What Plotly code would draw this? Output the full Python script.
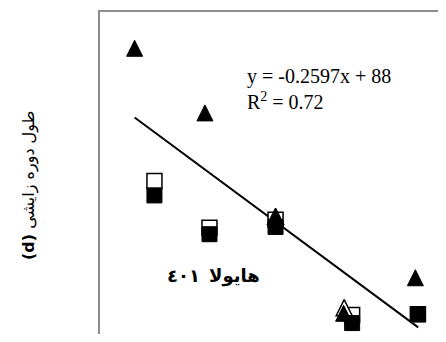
import plotly.graph_objects as go

# regression reported on the chart
slope = -0.2597
intercept = 88
fit_x = [22.2, 122.2]

# triangles (filled / open) and squares (filled / open)
tri_fill_x = [22.2, 47.0, 71.9, 95.9, 121.2]
tri_fill_y = [91.8, 83.8, 70.9, 59.0, 63.4]
tri_open_x = [71.9, 96.1]
tri_open_y = [71.0, 59.7]
sq_fill_x = [29.2, 48.6, 71.9, 98.9, 122.1]
sq_fill_y = [72.6, 67.8, 68.7, 56.8, 57.9]
sq_open_x = [29.2, 48.6, 71.9, 98.9, 122.1]
sq_open_y = [74.4, 68.6, 69.6, 57.8, 57.9]

fit_y = [slope * v + intercept for v in fit_x]

fig = go.Figure()

fig.add_trace(go.Scatter(
    x=fit_x, y=fit_y, mode='lines',
    line=dict(color='black', width=2),
))
fig.add_trace(go.Scatter(
    x=sq_open_x, y=sq_open_y, mode='markers',
    marker=dict(symbol='square', size=15, color='white',
                line=dict(color='black', width=1.5)),
))
fig.add_trace(go.Scatter(
    x=tri_open_x, y=tri_open_y, mode='markers',
    marker=dict(symbol='arrow-up', size=16, color='white',
                line=dict(color='black', width=1.5)),
))
fig.add_trace(go.Scatter(
    x=tri_fill_x, y=tri_fill_y, mode='markers',
    marker=dict(symbol='arrow-up', size=16, color='black',
                line=dict(color='black', width=1)),
))
fig.add_trace(go.Scatter(
    x=sq_fill_x, y=sq_fill_y, mode='markers',
    marker=dict(symbol='square', size=15, color='black',
                line=dict(color='black', width=1)),
))

serif = dict(family='Liberation Serif', size=20, color='black')
label_font = dict(family='DejaVu Sans', size=18, color='black', weight='bold')

fig.update_layout(
    width=438, height=326,
    margin=dict(l=92, r=0, t=4, b=0),
    paper_bgcolor='white', plot_bgcolor='white',
    showlegend=False,
    xaxis=dict(range=[10, 132], side='top', showline=True, linecolor='#8c8c8c',
               linewidth=2, showgrid=False, zeroline=False,
               showticklabels=False, ticks=''),
    yaxis=dict(range=[55.45, 95.3], showline=True, linecolor='#8c8c8c',
               linewidth=2, showgrid=False, zeroline=False,
               showticklabels=False, ticks=''),
    annotations=[
        dict(text='y = -0.2597x + 88', x=0.42, y=0.80, xref='paper', yref='paper',
             xanchor='left', yanchor='middle', showarrow=False, font=serif),
        dict(text='R<sup>2</sup> = 0.72', x=0.42, y=0.725, xref='paper', yref='paper',
             xanchor='left', yanchor='middle', showarrow=False, font=serif),
        dict(text='٤٠١', x=0.296, y=0.182, xref='paper', yref='paper',
             xanchor='right', yanchor='middle', showarrow=False, font=label_font),
        dict(text='هایولا', x=0.308, y=0.18, xref='paper', yref='paper',
             xanchor='left', yanchor='middle', showarrow=False, font=label_font),
        dict(text='<b>(d)</b> طول دوره زایشی', x=-0.205, y=0.46, xref='paper', yref='paper',
             xanchor='center', yanchor='middle', showarrow=False, textangle=-90,
             font=dict(family='DejaVu Sans', size=16, color='black')),
    ],
)

fig.write_html("out.html")
